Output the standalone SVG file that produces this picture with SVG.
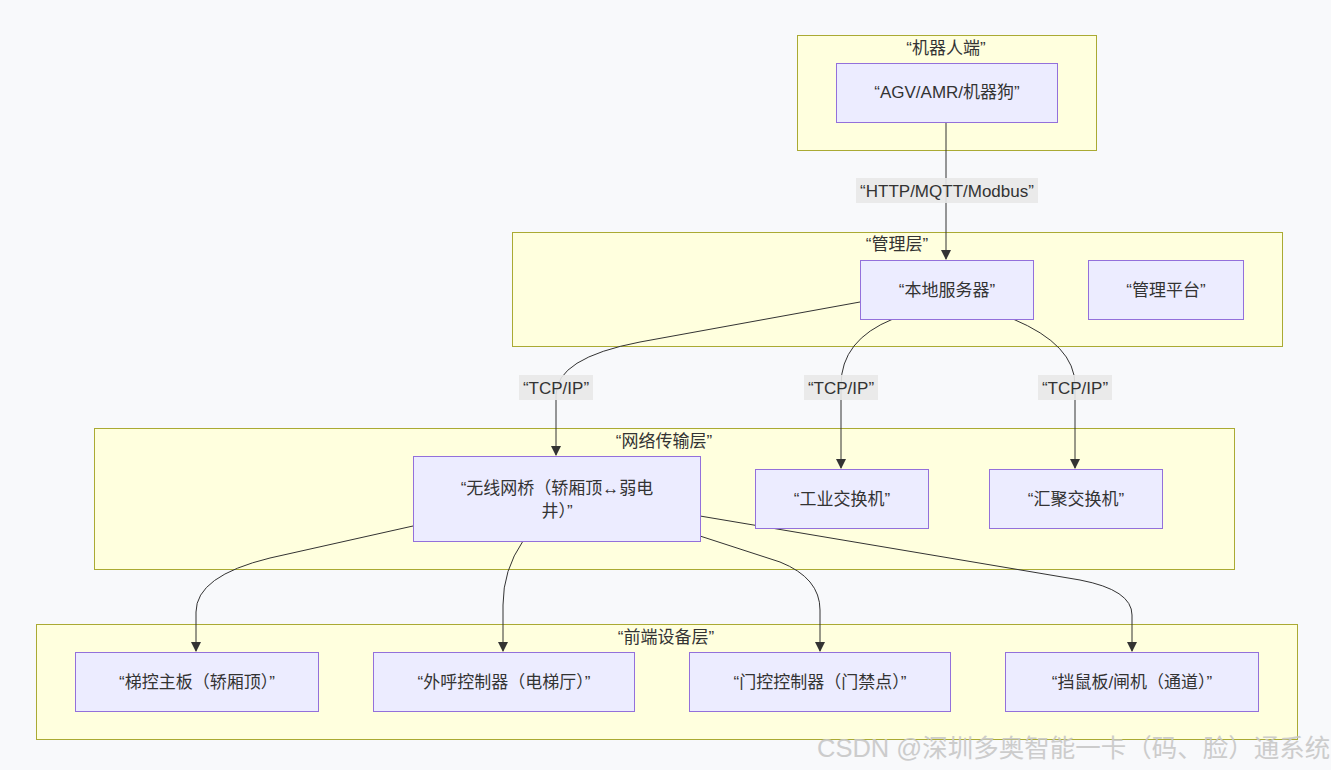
<svg xmlns="http://www.w3.org/2000/svg" width="1331" height="770" viewBox="0 0 1331 770">
<defs>
<style>
.bg{fill:#f8f9fb}
.cluster rect{fill:#ffffde;stroke:#aaaa33;stroke-width:1}
.node rect{fill:#ececff;stroke:#9370db;stroke-width:1}
text{font-family:"Liberation Sans","Noto Sans CJK SC",sans-serif;font-size:17px;fill:#333;text-anchor:middle}
.edge{fill:none;stroke:#333;stroke-width:1;marker-end:url(#arr)}
.lbl{fill:#e8e8e8;opacity:0.9}
.wm{fill:#c8c8c8;font-size:25.5px;text-anchor:start;opacity:0.9}
</style>
<marker id="arr" viewBox="0 0 10 10" refX="9" refY="5" markerWidth="10" markerHeight="10" markerUnits="userSpaceOnUse" orient="auto">
<path d="M0,0 L10,5 L0,10 z" fill="#333"/>
</marker>
</defs>
<rect class="bg" x="0" y="0" width="1331" height="770"/>

<g id="cluster-robot" class="cluster"><rect x="797.5" y="35.5" width="299" height="115"/><text x="946" y="54">“机器人端”</text></g>
<g id="cluster-mgmt" class="cluster"><rect x="512.5" y="232.5" width="770" height="114"/><text x="897" y="250">“管理层”</text></g>
<g id="cluster-net" class="cluster"><rect x="94.5" y="428.5" width="1140" height="141"/><text x="664" y="447">“网络传输层”</text></g>
<g id="cluster-front" class="cluster"><rect x="36.5" y="624.5" width="1261" height="115"/><text x="666" y="643">“前端设备层”</text></g>

<g id="connectors">
<path class="edge" d="M946,122 L946,259"/>
<path class="edge" d="M860,302 L640,342 Q556,358 556,395 L556,455"/>
<path class="edge" d="M893,319 Q841,340 841,385 L841,468"/>
<path class="edge" d="M1013,319 Q1075,345 1075,385 L1075,468"/>
<path class="edge" d="M413,526 L270,558 Q196,576 196,612 L196,651"/>
<path class="edge" d="M523,541 Q503,570 503,605 L503,651"/>
<path class="edge" d="M700,536 L780,562 Q820,578 820,610 L820,651"/>
<path class="edge" d="M700,516 L1080,580 Q1132,590 1132,615 L1132,651"/>
</g>

<g id="edge-labels">
<rect class="lbl" x="856" y="178" width="182" height="25"/><text x="947" y="197">“HTTP/MQTT/Modbus”</text>
<rect class="lbl" x="519" y="375" width="74" height="25"/><text x="556" y="394">“TCP/IP”</text>
<rect class="lbl" x="804" y="375" width="74" height="25"/><text x="841" y="394">“TCP/IP”</text>
<rect class="lbl" x="1038" y="375" width="74" height="25"/><text x="1075" y="394">“TCP/IP”</text>
</g>

<g id="node-agv" class="node"><rect x="836.5" y="63.5" width="221" height="59"/><text x="947" y="98">“AGV/AMR/机器狗”</text></g>
<g id="node-server" class="node"><rect x="860.5" y="260.5" width="173" height="59"/><text x="947" y="296">“本地服务器”</text></g>
<g id="node-platform" class="node"><rect x="1088.5" y="260.5" width="155" height="59"/><text x="1166" y="296">“管理平台”</text></g>
<g id="node-bridge" class="node"><rect x="413.5" y="456.5" width="287" height="85"/><text x="557" y="494">“无线网桥（轿厢顶↔弱电</text><text x="557" y="517">井）”</text></g>
<g id="node-ind-switch" class="node"><rect x="755.5" y="469.5" width="173" height="59"/><text x="842" y="505">“工业交换机”</text></g>
<g id="node-agg-switch" class="node"><rect x="989.5" y="469.5" width="173" height="59"/><text x="1076" y="505">“汇聚交换机”</text></g>
<g id="node-elevator" class="node"><rect x="75.5" y="652.5" width="243" height="59"/><text x="197" y="688">“梯控主板（轿厢顶）”</text></g>
<g id="node-hallcall" class="node"><rect x="373.5" y="652.5" width="261" height="59"/><text x="504" y="688">“外呼控制器（电梯厅）”</text></g>
<g id="node-door" class="node"><rect x="689.5" y="652.5" width="261" height="59"/><text x="820" y="688">“门控控制器（门禁点）”</text></g>
<g id="node-gate" class="node"><rect x="1005.5" y="652.5" width="253" height="59"/><text x="1132" y="688">“挡鼠板/闸机（通道）”</text></g>

<text class="wm" x="817" y="757">CSDN @深圳多奥智能一卡（码、脸）通系统</text>
</svg>
